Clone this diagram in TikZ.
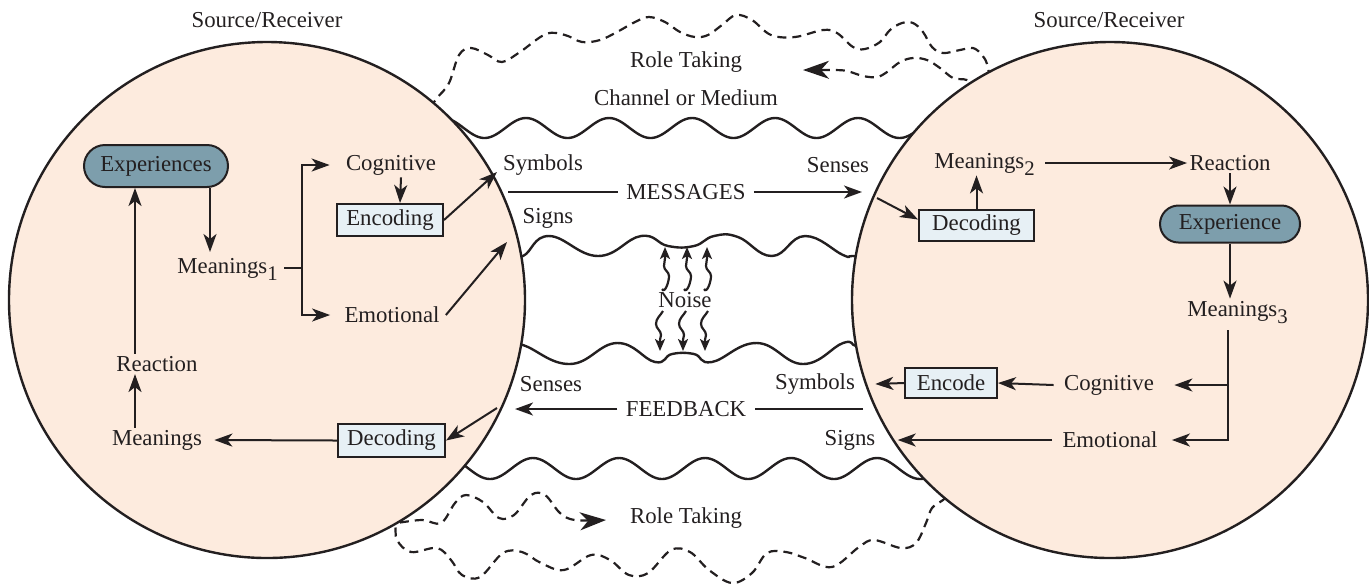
\documentclass[tikz,border=0pt]{standalone}
\usepackage{fontspec}
\setmainfont{Liberation Serif}
\usetikzlibrary{arrows.meta,shapes.misc}
\definecolor{peach}{RGB}{253,235,222}
\definecolor{pillc}{RGB}{125,158,172}
\definecolor{boxc}{RGB}{231,240,245}
\definecolor{ink}{RGB}{35,31,32}
\newcommand{\subn}[1]{\smash{\raisebox{-3.5pt}{\fontsize{10.4}{10.4}\selectfont #1}}}
\tikzset{
  lbl/.style={font=\fontsize{11.4}{13}\selectfont, inner sep=1pt, text=ink},
  pillbox/.style={lbl, rounded rectangle, draw=ink, line width=1pt, fill=pillc},
  codebox/.style={lbl, rectangle, draw=ink, line width=1pt, fill=boxc},
  arr/.style={-{Stealth[length=9pt,width=6.5pt,inset=2.5pt]}, line width=1pt, draw=ink},
  plain/.style={line width=1pt, draw=ink},
  noisearr/.style={-{Stealth[length=6pt,width=5pt,inset=1.5pt]}, line width=1.1pt, draw=ink},
  wave/.style={line width=1.2pt, draw=ink},
  rolepath/.style={line width=1.1pt, draw=ink, dash pattern=on 4.5pt off 3pt},
  rolearr/.style={rolepath, -{Stealth[length=13pt,width=9pt,inset=4pt]}},
  party/.style={circle, draw=ink, line width=1.2pt, fill=peach, minimum size=258pt, inner sep=0pt},
}
\begin{document}
\begin{tikzpicture}[x=0.5pt,y=-0.5pt]
\useasboundingbox (0,0) rectangle (1369,586);
% channel waves (under the circles)
\draw[wave] plot[domain=430:940,samples=240] (\x,{128-10*cos(4.3373*(\x-609))});
\draw[wave] plot[domain=440:940,samples=240] (\x,{468.5-10.5*cos(4.186*(\x-619))});
\draw[wave] plot[smooth,tension=0.75] coordinates {(505,256) (523,256) (549,236) (598,256) (641,236) (668,246) (694,246) (714,236) (738,237) (772,256) (805,236) (843,255) (852,256) (872,256)};
\draw[wave] plot[smooth,tension=0.75] coordinates {(505,344) (523,345) (570,364) (617,343) (655,362) (672,354) (694,354) (712,362) (757,343) (803,364) (843,343) (856,346) (872,348)};
% role taking paths (under the circles)
\draw[rolepath] plot[smooth,tension=0.6] coordinates {(430,108) (437,98) (449,83) (459,55) (471,48) (488,55) (502,62) (520,52) (546,34) (565,35) (582,42) (600,40) (617,32) (635,22) (649,17) (665,22) (680,32) (695,37) (708,35) (722,25) (736,15) (752,20) (771,35) (795,37) (823,30) (837,33) (853,47) (865,49) (880,42) (890,30) (902,23) (913,23) (923,32) (932,47) (943,53) (960,50) (973,48) (982,55) (987,64) (990,80)};
\draw[rolearr] plot[smooth,tension=0.6] coordinates {(980,88) (967,80) (953,78) (940,68) (927,60) (913,58) (900,62) (887,72) (877,77) (863,76) (847,71) (833,70) (803,70)};
\draw[rolearr] plot[smooth,tension=0.6] coordinates {(385,522) (395,523) (422,520) (441,523) (455,503) (466,495) (483,502) (499,518) (514,515) (531,495) (545,495) (560,513) (575,520) (606,520)};
\draw[rolepath] plot[smooth,tension=0.6] coordinates {(388,515) (395,524) (397,540) (411,552) (437,548) (451,560) (462,575) (480,577) (503,553) (522,552) (541,563) (564,570) (591,555) (610,560) (629,575) (648,573) (671,550) (690,552) (709,570) (732,583) (752,573) (767,553) (786,552) (805,558) (832,567) (859,547) (874,540) (901,548) (916,543) (926,523) (932,508) (943,500) (952,492)};
% the two parties
\node[party] (L) at (267,300) {};
\node[party] (R) at (1110,300) {};
% titles
\node[lbl] (srL) at (267,20) {Source/Receiver};
\node[lbl] (srR) at (1109,20) {Source/Receiver};
\node[lbl] (rtTop) at (686,62) {Role Taking};
\node[lbl] (chan) at (686,98) {Channel or Medium};
\node[lbl] (rtBot) at (686,518) {Role Taking};
% channel labels
\node[lbl] (symT) at (543,165) {Symbols};
\node[lbl] (sensT) at (838,165) {Senses};
\node[lbl] (signT) at (548,218) {Signs};
\node[lbl, inner xsep=4pt] (msg) at (686,192) {MESSAGES};
\node[lbl] (noise) at (685,300) {Noise};
\node[lbl] (sensB) at (551,384) {Senses};
\node[lbl] (symB) at (815,384) {Symbols};
\node[lbl, inner xsep=4pt] (fb) at (686,409) {FEEDBACK};
\node[lbl] (signB) at (850,440) {Signs};
% left party
\node[pillbox, minimum width=74pt, minimum height=21pt] (exp) at (156,166) {Experiences};
\node[lbl, anchor=west] (m1) at (175,268) {Meanings\subn{1}};
\node[lbl] (cogL) at (391,165) {Cognitive};
\node[codebox, minimum width=53pt, minimum height=16pt] (enc) at (390,220) {Encoding};
\node[lbl] (emoL) at (392,315) {Emotional};
\node[lbl] (reacL) at (157,364) {Reaction};
\node[lbl] (meanL) at (157,440) {Meanings};
\node[codebox, minimum width=53.5pt, minimum height=16.5pt] (decL) at (391.5,440.5) {Decoding};
% right party
\node[lbl, anchor=west] (m2) at (932,163) {Meanings\subn{2}};
\node[codebox, minimum width=57.5pt, minimum height=15.5pt] (decR) at (976.5,225.5) {Decoding};
\node[lbl] (reacR) at (1230,163) {Reaction};
\node[pillbox, minimum width=72pt, minimum height=18.5pt] (exp2) at (1230,224) {Experience};
\node[lbl, anchor=west] (m3) at (1185,311) {Meanings\subn{3}};
\node[lbl] (cogR) at (1109,385) {Cognitive};
\node[lbl] (emoR) at (1110,440) {Emotional};
\node[codebox, minimum width=46pt, minimum height=15pt] (encode) at (951,383) {Encode};
% coordinates for free ends
\coordinate (msgS) at (508,192);
\coordinate (msgE) at (862,192);
\coordinate (fbS) at (863,409);
\coordinate (fbE) at (515,409);
\coordinate (encTip) at (497,172);
\coordinate (emoTip) at (507,242);
\coordinate (fbIn) at (497,408);
\coordinate (sensIn) at (877,198);
\coordinate (m1top) at (210,252);
\coordinate (br) at (302,268);
\coordinate (rb) at (1228,330);
% messages and feedback
\draw[plain] (msgS) -- (msg.west);
\draw[arr] (msg.east) -- (msgE);
\draw[plain] (fbS) -- (fb.east);
\draw[arr] (fb.west) -- (fbE);
% noise
\foreach \nx/\nm in {665/a,687/b,707/c}{
  \coordinate (nu\nm) at (\nx,247);
  \draw[noisearr] (\nx-3,289) to[out=-60,in=-90] (\nx+4,276) to[out=90,in=-90] (\nx-1,266) to[out=90,in=-90] (\nx,258) -- (nu\nm);
}
\foreach \nx/\nm in {660/a,683/b,705/c}{
  \coordinate (nd\nm) at (\nx,351);
  \draw[noisearr] (\nx+3,311) to[out=-120,in=90] (\nx-4,324) to[out=-90,in=90] (\nx+1,335) to[out=-90,in=90] (\nx,340) -- (nd\nm);
}
% left connectors
\draw[arr] (exp.south -| m1top) -- (m1top);
\draw[plain] ([xshift=2pt]m1.east) -- (br);
\draw[arr] (br) |- ([xshift=-7pt]cogL.west);
\draw[arr] (br) |- ([xshift=-6pt]emoL.west);
\draw[arr] ([xshift=5pt]cogL.south) -- ([xshift=5pt]enc.north);
\draw[arr] (enc.east) -- (encTip);
\draw[arr] ([xshift=2pt]emoL.east) -- (emoTip);
\draw[arr] ([xshift=-11pt]reacL.north) -- ([xshift=-11pt]reacL.north |- exp.south);
\draw[arr] ([xshift=-11pt]meanL.north) -- ([xshift=-11pt]reacL.south);
\draw[arr] (decL.west) -- ([xshift=5pt]meanL.east);
\draw[arr] (fbIn) -- (decL.east);
% right connectors
\draw[arr] (sensIn) -- ([yshift=3pt]decR.west);
\draw[arr] (decR.north) -- (decR.north |- m2.south);
\draw[arr] ([xshift=4pt]m2.east) -- (reacR.west);
\draw[arr] (reacR.south -| exp2.north) -- (exp2.north);
\draw[arr] (exp2.south) -- (exp2.south |- m3.north);
\draw[arr] (rb) |- ([xshift=9pt]cogR.east);
\draw[arr] (rb) |- ([xshift=6pt]emoR.east);
\draw[arr] ([xshift=-4pt]cogR.west) -- (encode.east);
\draw[arr] (encode.west) -- ([xshift=9pt]symB.east);
\draw[arr] ([xshift=-4pt]emoR.west) -- ([xshift=10pt]signB.east);
\end{tikzpicture}
\end{document}
